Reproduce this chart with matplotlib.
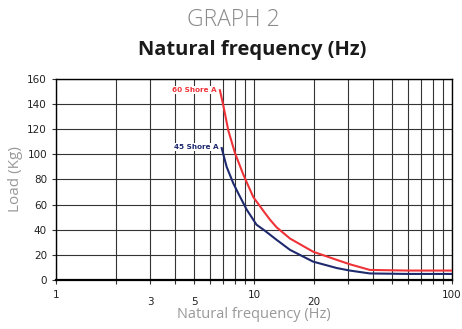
import matplotlib.pyplot as plt

# data (frequency in Hz, load in Kg)
freq_60 = [6.73, 7.0, 7.42, 8.02, 8.83, 9.92, 11.4, 12.05, 13.0, 15.2, 19.9, 26.2, 30.5, 38.5, 60, 100]
load_60 = [151, 139, 119, 101, 84, 66, 53, 48, 42, 33, 22.5, 16, 12.5, 8, 7.5, 7.5]

freq_45 = [6.87, 7.28, 7.86, 8.33, 9.19, 10.3, 11.4, 13.0, 15.2, 19.9, 26.2, 30.5, 38.5, 60, 100]
load_45 = [105, 90, 77, 69, 56, 44, 39, 32, 24, 14.6, 9.5, 7.5, 5.2, 4.8, 4.8]

major_ticks = [1, 10, 100]
minor_ticks = [2, 3, 4, 5, 6, 7, 8, 9, 20, 30, 40, 50, 60, 70, 80, 90]
minor_labels = ['', '3', '', '5', '', '', '', '', '20', '', '', '', '', '', '', '']
y_ticks = [0, 20, 40, 60, 80, 100, 120, 140, 160]

fig = plt.figure(figsize=(4.62, 3.29), dpi=100)
ax = fig.add_axes([0.1212, 0.149, 0.857, 0.611])

ax.set_xscale('log')
ax.set_xlim(1, 100)
ax.set_ylim(0, 160)

ax.plot(freq_60, load_60, color='#ee3338', lw=1.5, zorder=3)
ax.plot(freq_45, load_45, color='#1f2a6e', lw=1.5, zorder=3)

ax.text(6.45, 151, '60 Shore A', color='#ee3338', fontsize=5.2, fontweight='bold',
        ha='right', va='center', zorder=4,
        bbox=dict(facecolor='white', edgecolor='none', pad=0.8))
ax.text(6.6, 106, '45 Shore A', color='#1f2a6e', fontsize=5.2, fontweight='bold',
        ha='right', va='center', zorder=4,
        bbox=dict(facecolor='white', edgecolor='none', pad=0.8))

ax.set_xticks(major_ticks)
ax.set_xticklabels(['1', '10', '100'])
ax.set_xticks(minor_ticks, minor=True)
ax.set_xticklabels(minor_labels, minor=True)
ax.set_yticks(y_ticks)

ax.grid(True, which='both', color='#333333', lw=0.8)
ax.tick_params(which='both', direction='out', length=3, width=0.8, color='#333333',
               labelsize=7.5, labelcolor='#222222')
ax.tick_params(axis='x', which='major', pad=4)
ax.tick_params(axis='x', which='minor', pad=9)

for s in ['left', 'top', 'right']:
    ax.spines[s].set_linewidth(1.0)
ax.spines['bottom'].set_linewidth(1.6)

ax.set_xlabel('Natural frequency (Hz)', color='#999999', fontsize=10.5,
              family='Open Sans', labelpad=0)
ax.set_ylabel('Load (Kg)', color='#999999', fontsize=11, family='Open Sans',
              labelpad=3)

fig.text(0.505, 0.938, 'GRAPH 2', ha='center', va='center', fontsize=16.5,
         color='#8a8a8a', family='Open Sans', fontweight='light')
fig.text(0.546, 0.848, 'Natural frequency (Hz)', ha='center', va='center',
         fontsize=14.5, fontweight='bold', color='#1a1a1a', family='Open Sans')

fig.savefig('out.png', dpi=100)
